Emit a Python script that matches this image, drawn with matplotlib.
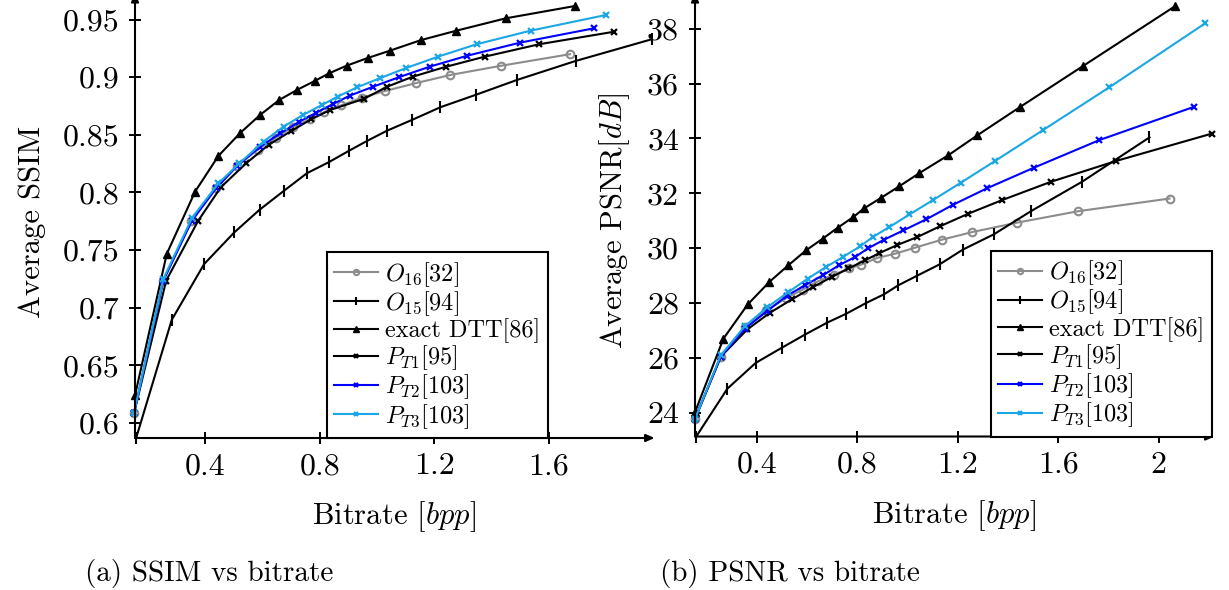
import matplotlib
matplotlib.use("Agg")
import matplotlib.pyplot as plt
from matplotlib.ticker import FixedLocator, FixedFormatter

plt.rcParams['font.family'] = 'serif'
plt.rcParams['font.serif'] = ['cmr10']
plt.rcParams['mathtext.fontset'] = 'cm'
plt.rcParams['axes.unicode_minus'] = False
plt.rcParams['axes.formatter.use_mathtext'] = True

# ---------------- data: SSIM vs bitrate ----------------
ssim_o16_x = [0.152, 0.254, 0.352, 0.4375, 0.513, 0.583, 0.647, 0.7055, 0.767, 0.814, 0.876, 0.948, 1.029, 1.135, 1.257, 1.435, 1.675]
ssim_o16_y = [0.609, 0.7236, 0.7754, 0.8037, 0.8234, 0.837, 0.8476, 0.8566, 0.8636, 0.8696, 0.8757, 0.8823, 0.8881, 0.8948, 0.902, 0.910, 0.920]

ssim_o15_x = [0.159, 0.2835, 0.3965, 0.5015, 0.59, 0.6765, 0.756, 0.832, 0.904, 0.966, 1.036, 1.123, 1.222, 1.345, 1.49, 1.694, 1.961]
ssim_o15_y = [0.587, 0.6896, 0.7379, 0.7653, 0.785, 0.8017, 0.8168, 0.8263, 0.8364, 0.8448, 0.8537, 0.863, 0.874, 0.8847, 0.8977, 0.9141, 0.933]

ssim_dtt_x = [0.155, 0.266, 0.365, 0.4465, 0.522, 0.592, 0.659, 0.721, 0.783, 0.834, 0.894, 0.968, 1.045, 1.155, 1.278, 1.45, 1.692]
ssim_dtt_y = [0.624, 0.7468, 0.8008, 0.8318, 0.8515, 0.8673, 0.8803, 0.889, 0.8968, 0.9035, 0.910, 0.9167, 0.923, 0.9323, 0.9404, 0.9511, 0.9618]

ssim_pt1_x = [0.152, 0.264, 0.3755, 0.455, 0.5435, 0.6215, 0.701, 0.771, 0.837, 0.954, 1.036, 1.1255, 1.24, 1.376, 1.5665, 1.829]
ssim_pt1_y = [0.609, 0.7236, 0.7754, 0.8046, 0.8254, 0.8413, 0.8534, 0.8636, 0.8716, 0.8812, 0.8918, 0.9005, 0.909, 0.9178, 0.9286, 0.9395]

ssim_pt2_x = [0.152, 0.254, 0.3535, 0.4385, 0.513, 0.5925, 0.6625, 0.7265, 0.7885, 0.847, 0.905, 0.987, 1.0765, 1.185, 1.316, 1.5, 1.759]
ssim_pt2_y = [0.609, 0.7236, 0.7754, 0.8037, 0.8234, 0.8398, 0.8514, 0.861, 0.8693, 0.8768, 0.884, 0.8918, 0.900, 0.9092, 0.9187, 0.930, 0.9425]

ssim_pt3_x = [0.152, 0.254, 0.3535, 0.4465, 0.52, 0.604, 0.674, 0.742, 0.8085, 0.863, 0.931, 1.01, 1.10, 1.213, 1.348, 1.537, 1.80]
ssim_pt3_y = [0.609, 0.725, 0.7777, 0.808, 0.8254, 0.8442, 0.8572, 0.8673, 0.876, 0.8832, 0.8913, 0.8991, 0.9078, 0.9178, 0.9286, 0.9404, 0.954]

# ---------------- data: PSNR vs bitrate ----------------
psnr_o16_x = [0.154, 0.257, 0.353, 0.437, 0.517, 0.583, 0.643, 0.708, 0.769, 0.8155, 0.878, 0.951, 1.031, 1.137, 1.259, 1.436, 1.681, 2.044]
psnr_o16_y = [23.78, 26.05, 27.12, 27.73, 28.18, 28.49, 28.79, 29.04, 29.26, 29.40, 29.64, 29.80, 30.02, 30.31, 30.59, 30.93, 31.35, 31.81]

psnr_o15_x = [0.159, 0.283, 0.396, 0.4996, 0.592, 0.679, 0.756, 0.835, 0.907, 0.964, 1.037, 1.128, 1.221, 1.345, 1.492, 1.695, 1.964]
psnr_o15_y = [23.135, 24.88, 25.82, 26.37, 26.85, 27.28, 27.61, 28.0, 28.32, 28.65, 28.99, 29.41, 29.95, 30.51, 31.35, 32.42, 34.04]

psnr_dtt_x = [0.154, 0.267, 0.364, 0.45, 0.526, 0.596, 0.663, 0.723, 0.785, 0.827, 0.894, 0.968, 1.048, 1.163, 1.279, 1.449, 1.699, 2.067]
psnr_dtt_y = [24.02, 26.70, 27.95, 28.77, 29.38, 29.92, 30.35, 30.75, 31.14, 31.45, 31.83, 32.26, 32.74, 33.39, 34.12, 35.15, 36.64, 38.83]

psnr_pt1_x = [0.154, 0.257, 0.3625, 0.453, 0.539, 0.623, 0.699, 0.765, 0.8315, 0.888, 0.958, 1.04, 1.13, 1.243, 1.376, 1.571, 1.831, 2.213]
psnr_pt1_y = [23.78, 26.05, 27.04, 27.65, 28.13, 28.58, 28.95, 29.26, 29.56, 29.82, 30.11, 30.41, 30.80, 31.26, 31.75, 32.42, 33.18, 34.18]

psnr_pt2_x = [0.154, 0.257, 0.353, 0.44, 0.5195, 0.592, 0.663, 0.728, 0.792, 0.842, 0.907, 0.984, 1.0745, 1.183, 1.316, 1.505, 1.764, 2.14]
psnr_pt2_y = [23.78, 26.05, 27.07, 27.70, 28.26, 28.65, 29.01, 29.38, 29.68, 29.99, 30.31, 30.65, 31.05, 31.59, 32.18, 32.94, 33.94, 35.15]

psnr_pt3_x = [0.154, 0.257, 0.353, 0.442, 0.526, 0.603, 0.675, 0.743, 0.812, 0.862, 0.928, 1.008, 1.101, 1.213, 1.349, 1.539, 1.803, 2.186]
psnr_pt3_y = [23.78, 26.10, 27.16, 27.85, 28.40, 28.89, 29.31, 29.68, 30.07, 30.41, 30.77, 31.23, 31.75, 32.39, 33.18, 34.30, 35.86, 38.20]

labels = [r'$O_{16}$[32]', r'$O_{15}$[94]', 'exact DTT[86]', r'$P_{T1}$[95]', r'$P_{T2}$[103]', r'$P_{T3}$[103]']

ssim_xticks = [0.4, 0.8, 1.2, 1.6]
ssim_xticklabels = ['0.4', '0.8', '1.2', '1.6']
ssim_yticks = [0.6, 0.65, 0.7, 0.75, 0.8, 0.85, 0.9, 0.95]
ssim_yticklabels = ['0.6', '0.65', '0.7', '0.75', '0.8', '0.85', '0.9', '0.95']
psnr_xticks = [0.4, 0.8, 1.2, 1.6, 2.0]
psnr_xticklabels = ['0.4', '0.8', '1.2', '1.6', '2']
psnr_yticks = [24, 26, 28, 30, 32, 34, 36, 38]
psnr_yticklabels = ['24', '26', '28', '30', '32', '34', '36', '38']

GRAY = '#8c8c8c'
BLUE = '#0000ff'
CYAN = '#1ba6e6'

styles = [
    dict(color=GRAY, marker='o', markersize=5.5, markerfacecolor='none', markeredgewidth=1.5),
    dict(color='black', marker='|', markersize=8, markeredgewidth=1.5),
    dict(color='black', marker='^', markersize=5.5),
    dict(color='black', marker='x', markersize=5, markeredgewidth=1.6),
    dict(color=BLUE, marker='x', markersize=5, markeredgewidth=1.6),
    dict(color=CYAN, marker='x', markersize=5, markeredgewidth=1.6),
]

fig = plt.figure(figsize=(12.29, 5.90), dpi=100)

W, H = 1229.0, 590.0
axL = fig.add_axes([135 / W, 1 - 438 / H, (652 - 135) / W, (438 - 6) / H])
axR = fig.add_axes([695 / W, 1 - 436.5 / H, (1212 - 695) / W, (436.5 - 6) / H])

ssim_series = [(ssim_o16_x, ssim_o16_y), (ssim_o15_x, ssim_o15_y), (ssim_dtt_x, ssim_dtt_y),
               (ssim_pt1_x, ssim_pt1_y), (ssim_pt2_x, ssim_pt2_y), (ssim_pt3_x, ssim_pt3_y)]
psnr_series = [(psnr_o16_x, psnr_o16_y), (psnr_o15_x, psnr_o15_y), (psnr_dtt_x, psnr_dtt_y),
               (psnr_pt1_x, psnr_pt1_y), (psnr_pt2_x, psnr_pt2_y), (psnr_pt3_x, psnr_pt3_y)]

for ax, series in ((axL, ssim_series), (axR, psnr_series)):
    for (x, y), st, lab in zip(series, styles, labels):
        ax.plot(x, y, lw=1.5, label=lab, clip_on=False, **st)

axL.set_xlim(0.155, 1.961)
axL.set_ylim(0.587, 0.9618)
axR.set_xlim(0.154, 2.213)
axR.set_ylim(23.135, 38.83)

axL.xaxis.set_major_locator(FixedLocator(ssim_xticks))
axL.xaxis.set_major_formatter(FixedFormatter(ssim_xticklabels))
axL.yaxis.set_major_locator(FixedLocator(ssim_yticks))
axL.yaxis.set_major_formatter(FixedFormatter(ssim_yticklabels))
axR.xaxis.set_major_locator(FixedLocator(psnr_xticks))
axR.xaxis.set_major_formatter(FixedFormatter(psnr_xticklabels))
axR.yaxis.set_major_locator(FixedLocator(psnr_yticks))
axR.yaxis.set_major_formatter(FixedFormatter(psnr_yticklabels))

for ax in (axL, axR):
    for s in ax.spines.values():
        s.set_visible(False)
    ax.set_facecolor('none')
    ax.tick_params(direction='inout', length=9, width=1.4, labelsize=23, pad=6)
    ax.tick_params(axis='y', pad=7)
    ax.annotate('', xy=(0, 1.03), xytext=(0, 0), xycoords='axes fraction',
                arrowprops=dict(arrowstyle='-|>,head_length=0.5,head_width=0.22', lw=1.5, color='black',
                                shrinkA=0, shrinkB=0))
    ax.annotate('', xy=(1.005, 0), xytext=(0, 0), xycoords='axes fraction',
                arrowprops=dict(arrowstyle='-|>,head_length=0.5,head_width=0.22', lw=1.5, color='black',
                                shrinkA=0, shrinkB=0))
    ax.set_xlabel(r'Bitrate [$bpp$]', fontsize=22, labelpad=14)

axL.set_ylabel('Average SSIM', fontsize=22, labelpad=12)
axR.set_ylabel(r'Average PSNR[$dB$]', fontsize=22, labelpad=11)

leg_kw = dict(fontsize=17.5, frameon=True, fancybox=False, framealpha=1, edgecolor='black',
              handlelength=1.8, handletextpad=0.3, labelspacing=0.02, borderpad=0.3,
              borderaxespad=0, markerscale=0.7)
lL = axL.legend(loc='lower right', bbox_to_anchor=(0.798, 0.0), **leg_kw)
lR = axR.legend(loc='lower right', bbox_to_anchor=(1.0, 0.0), **leg_kw)
for lg in (lL, lR):
    lg.get_frame().set_linewidth(1.5)

fig.text(85 / W, 1 - 573 / H, '(a) SSIM vs bitrate', fontsize=21, va='center', ha='left')
fig.text(660 / W, 1 - 573 / H, '(b) PSNR vs bitrate', fontsize=21, va='center', ha='left')

fig.savefig('out.png', dpi=100)
